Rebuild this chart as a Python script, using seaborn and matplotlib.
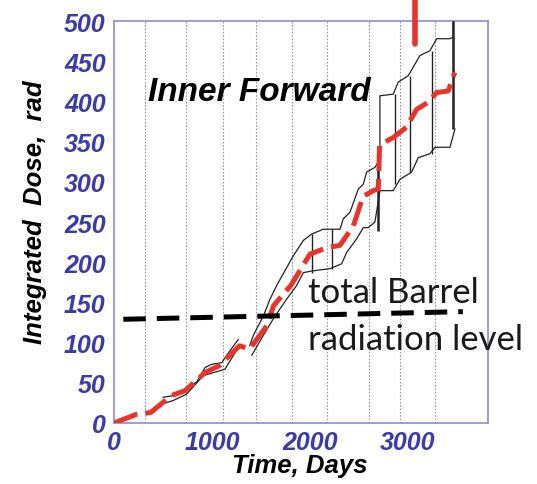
import matplotlib
matplotlib.use("Agg")
import matplotlib.pyplot as plt
import seaborn as sns
import pandas as pd

# ---- data ----
red_days = [0, 234, 374, 583, 722, 932, 1071, 1281, 1385, 1560, 1629, 1804, 2000, 2170,
            2306, 2442, 2510, 2544, 2646, 2697, 2711, 2850, 2986, 3088, 3207, 3293, 3411, 3478]
red_dose = [0, 11, 13, 34, 40, 63, 71, 96, 92, 121, 146, 171, 210, 218,
            221, 245, 270, 282, 289, 291, 346, 355, 368, 390, 399, 411, 413, 436]

upper1_days = [500, 605, 742, 844, 929, 997, 1099, 1184, 1269]
upper1_dose = [32, 34, 44, 51, 69, 73, 75, 90, 104]
lower1_days = [500, 605, 742, 912, 1082, 1133, 1218, 1269]
lower1_dose = [24, 28, 36, 59, 65, 67, 84, 94]

upper2_days = [1385, 1422, 1524, 1592, 1660, 1830, 1932, 2017, 2136, 2306, 2340, 2408,
               2493, 2544, 2578, 2663, 2714, 2714, 2850, 2901, 3003, 3122, 3224, 3293,
               3429, 3463, 3463]
upper2_dose = [96, 109, 133, 154, 171, 208, 227, 235, 241, 241, 254, 262,
               291, 297, 312, 318, 328, 407, 409, 424, 432, 457, 463, 478,
               478, 480, 500]
lower2_days = [1405, 1524, 1643, 1762, 1864, 1932, 2017, 2204, 2323, 2374, 2476, 2544,
               2595, 2663, 2714, 2850, 2918, 3037, 3105, 3224, 3276, 3429, 3480]
lower2_dose = [84, 109, 133, 154, 171, 187, 189, 192, 198, 212, 229, 243,
               243, 250, 289, 289, 303, 312, 330, 335, 343, 343, 366]

bar_days = [2017, 2221, 2690, 2867, 3020, 3241, 3463]
bar_low = [187, 192, 239, 297, 312, 335, 366]
bar_high = [235, 241, 328, 409, 432, 463, 500]

year_marks = [321, 730, 1112, 1449, 1819, 2170, 2605, 2918, 3276]

barrel_days = [95, 3560]
barrel_dose = [129, 138.5]

spike_days = [3071, 3071]
spike_dose = [472, 530]

xticks = [0, 1000, 2000, 3000]
yticks = list(range(0, 501, 50))

title_text = "Inner Forward"
barrel_text = ["total Barrel", "radiation level"]

# ---- style ----
sns.set_style("white")
plt.rcParams['font.family'] = ['Liberation Sans', 'DejaVu Sans']

BLUE = '#3c3ca8'
FRAME = '#8c8cd6'
RED = '#e8352c'

fig = plt.figure(figsize=(5.37, 4.85), dpi=100)
ax = fig.add_axes([0.2123, 0.1258, 0.697, 0.8288])

# grid (year boundaries)
for d in year_marks:
    ax.axvline(d, color='#9a9a9a', lw=0.8, ls=(0, (1.5, 1.5)), zorder=1)

# envelopes
env = [(upper1_days, upper1_dose), (lower1_days, lower1_dose),
       (upper2_days, upper2_dose), (lower2_days, lower2_dose)]
for xs, ys in env:
    sns.lineplot(x=xs, y=ys, sort=False, estimator=None, color='#222222', lw=0.9, ax=ax,
                 zorder=3)

widths = [1.0, 1.0, 1.8, 1.0, 1.0, 1.0, 1.8]
ax.vlines(bar_days, bar_low, bar_high, colors='#222222', linewidths=widths, zorder=3)

# central estimate
sns.lineplot(x=red_days, y=red_dose, sort=False, estimator=None, color=RED, lw=3.6,
             ax=ax, zorder=4)
ax.get_lines()[-1].set_dashes((5, 1.6))

# barrel level
sns.lineplot(x=barrel_days, y=barrel_dose, sort=False, estimator=None, color='black',
             lw=3.6, ax=ax, zorder=5)
ax.get_lines()[-1].set_dashes((4.5, 2.2))

# red spike above the frame
ax.plot(spike_days, spike_dose, color=RED, lw=4, clip_on=False, zorder=6)

ax.set_xlim(0, 3820)
ax.set_ylim(0, 500)
ax.set_xticks(xticks)
ax.set_yticks(yticks)
tick_font = dict(fontsize=18, fontweight='bold', fontstyle='italic', color=BLUE)
ax.set_xticklabels([str(t) for t in xticks], **tick_font)
ax.set_yticklabels([str(t) for t in yticks], **tick_font)
ax.tick_params(direction='in', length=5, width=1, color=FRAME, pad=5)
ax.tick_params(axis='y', pad=6)

for s in ax.spines.values():
    s.set_color(FRAME)
    s.set_linewidth(1.2)

lab_font = dict(fontsize=18.5, fontweight='bold', fontstyle='italic', color='black')
ax.set_xlabel("Time, Days", **lab_font)
ax.set_ylabel("Integrated  Dose,  rad", **lab_font)
ax.xaxis.set_label_coords(0.497, -0.075)
ax.yaxis.set_label_coords(-0.18, 0.527)

ax.text(347, 412, title_text, fontsize=24, fontweight='bold', fontstyle='italic',
        color='black', va='center', ha='left', zorder=7)
ax.text(1975, 150.5, barrel_text[0], fontsize=25, family=['Lato', 'DejaVu Sans'],
        color='#1a1a1a', va='baseline', ha='left', clip_on=False, zorder=7)
ax.text(1975, 92, barrel_text[1], fontsize=25, family=['Lato', 'DejaVu Sans'],
        color='#1a1a1a', va='baseline', ha='left', clip_on=False, zorder=7)

fig.savefig("out.png", dpi=100)
